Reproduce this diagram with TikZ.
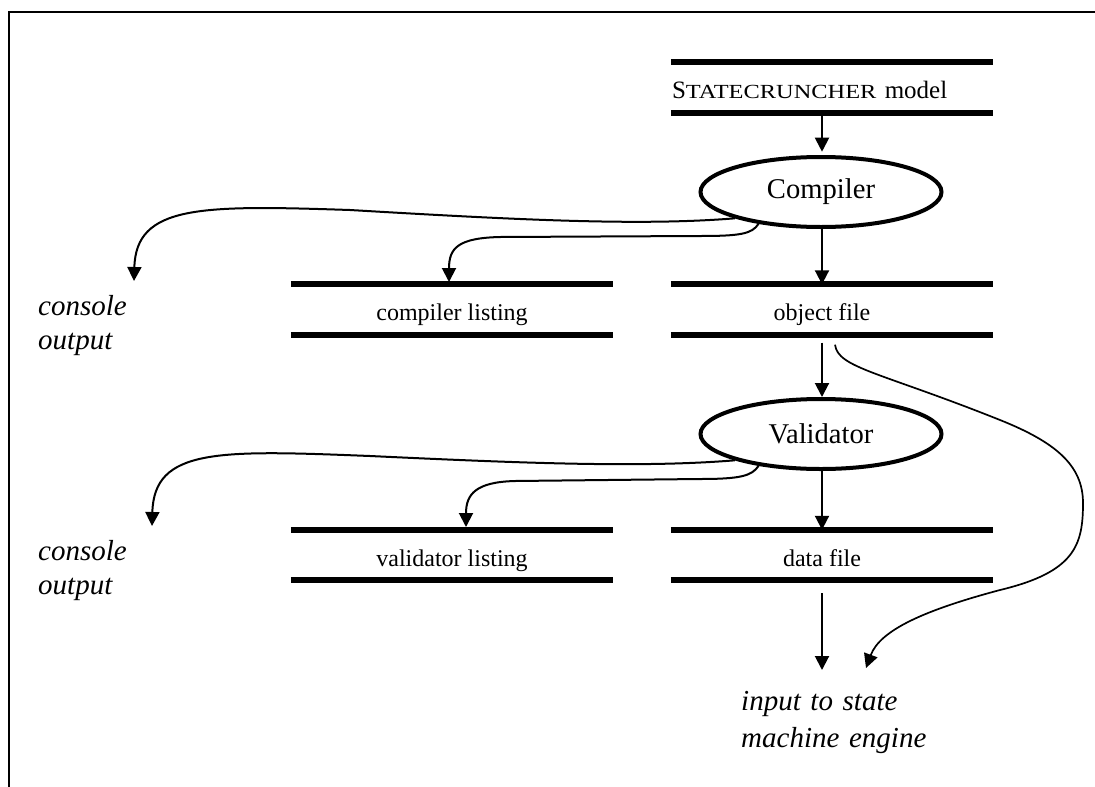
\documentclass[tikz,border=0pt]{standalone}
\usepackage{fontspec}
\setmainfont{Liberation Serif}
\usepackage{graphicx}
\usetikzlibrary{shapes.geometric,arrows.meta,calc}

\begin{document}
\begin{tikzpicture}[x=1pt,y=-1pt,
  flow/.style={line width=2pt,-{Triangle[length=14pt,width=14pt]}},
  thinflow/.style={line width=1.7pt,-{Triangle[length=14pt,width=14pt]}},
  proc/.style={ellipse,draw,line width=4pt,minimum width=241pt,minimum height=70pt,
    inner sep=0pt,font=\fontsize{28.6}{32}\selectfont},
  store/.style={minimum width=322pt,minimum height=50pt,inner sep=0pt,
    text height=27pt,text depth=5pt,font=\fontsize{24}{28}\selectfont},
  bar/.style={line width=6pt},
  note/.style={inner sep=0pt,anchor=base west,text width=240pt,align=left,
    font=\fontsize{29}{34}\selectfont\itshape}]
\useasboundingbox (0,0) rectangle (1095,787);

% frame
\draw[line width=1.6pt] (9,787) -- (9,12) -- (1095,12);

% data stores (the right-hand column keeps its label under the flow line,
% its bars run 20pt further to the right)
\node[store,text width=320pt,align=left,font=\fontsize{25}{28}\selectfont] (model) at (832,87.5)
  {S\scalebox{1.22}[1]{\fontsize{20}{24}\selectfont TATECRUNCHER} model};
\node[store] (clist) at (452,309.5) {compiler listing};
\node[store,minimum width=302pt] (obj)  at (822,309.5) {object file};
\node[store] (vlist) at (452,555)   {validator listing};
\node[store,minimum width=302pt] (data) at (822,555)   {data file};
\foreach \s/\e in {model/0,clist/0,obj/20,vlist/0,data/20}
  \draw[bar] (\s.north west) -- ([xshift=\e pt]\s.north east)
             (\s.south west) -- ([xshift=\e pt]\s.south east);

% processes
\node[proc] (comp) at (821,192) {Compiler};
\node[proc] (val)  at (821,434) {Validator};

% free texts
\node[note] (con1) at (38,315) {console\\output};
\node[note] (con2) at (38,560) {console\\output};
\node[note,font=\fontsize{29}{37}\selectfont\itshape] (eng) at (741,710) {input to state\\machine engine};

% arrow end points
\coordinate (con1in) at (134,281);
\coordinate (con2in) at (152,526);
\coordinate (clistin) at (449,282);
\coordinate (vlistin) at (466,527);
\coordinate (engv) at (822,670);
\coordinate (engc) at (866,668);
\coordinate (objtap) at ($(obj.south)+(13,10)$);

% main flow
\draw[flow] (model.south -| comp.north) ++(1,0) -- ++(0,39);
\draw[flow] ([xshift=1pt]comp.south) -- ([xshift=1pt]comp.south |- obj.north);
\draw[flow,shorten <=8pt] ([xshift=1pt]obj.south -| val.north) -- ([xshift=1pt]val.north);
\draw[flow] ([xshift=1pt]val.south) -- ([xshift=1pt]val.south |- data.north);
\draw[flow,shorten <=13pt] (data.south -| engv) -- (engv);

% compiler side outputs
\draw[flow] (comp.197) .. controls (640,226) and (520,220) .. (350,210)
  .. controls (200,205) and (136,205) .. (con1in);
\draw[flow] (comp.207) .. controls (752,234) and (740,236) .. (700,236)
  -- (500,237) .. controls (458,238) and (449,248) .. (clistin);

% validator side outputs
\draw[flow] (val.197) .. controls (640,468) and (520,463) .. (370,456)
  .. controls (218,450) and (154,448) .. (con2in);
\draw[flow] (val.207) .. controls (752,476) and (740,479) .. (700,479)
  -- (515,481) .. controls (476,482) and (466,494) .. (vlistin);

% object file passed straight on to the engine
\draw[thinflow] (objtap) .. controls (838,368) and (880,372) .. (1000,420)
  .. controls (1055,442) and (1083,465) .. (1083,503)
  .. controls (1083,545) and (1075,572) .. (1000,590)
  .. controls (925,610) and (880,630) .. (engc);
\end{tikzpicture}
\end{document}
